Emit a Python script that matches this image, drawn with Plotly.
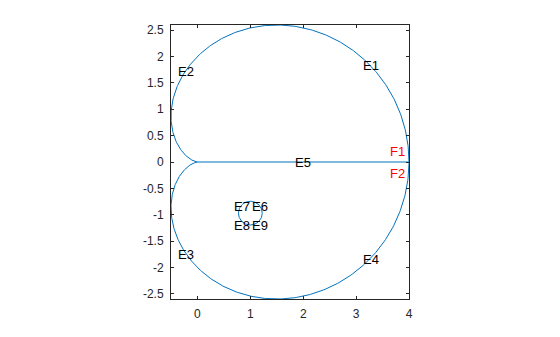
import numpy as np
import plotly.graph_objects as go

# Cardioid r = a(1 + cos t)
cardioid_a = 2.0
theta = np.linspace(0, 2 * np.pi, 721)

# Small circle
circle_center = (1.0, -0.97)
circle_radius = 0.225

# Horizontal segment
seg_x = [0, 4]
seg_y = [0, 0]

# Text labels
label_text = ["E1", "E2", "E3", "E4", "E5", "E6", "E7", "E8", "E9"]
label_x = [3.11, -0.39, -0.39, 3.11, 1.82, 1.02, 0.67, 0.67, 1.02]
label_y = [1.83, 1.72, -1.76, -1.85, 0.0, -0.85, -0.85, -1.21, -1.21]

red_text = ["F1", "F2"]
red_x = [3.63, 3.63]
red_y = [0.20, -0.215]

x_ticks = [0, 1, 2, 3, 4]
y_ticks = [-2.5, -2, -1.5, -1, -0.5, 0, 0.5, 1, 1.5, 2, 2.5]
y_tick_text = ["-2.5", "-2", "-1.5", "-1", "-0.5", "0", "0.5", "1", "1.5", "2", "2.5"]

line_color = "#0072BD"
axis_color = "#262626"

r = cardioid_a * (1 + np.cos(theta))
cx = r * np.cos(theta)
cy = r * np.sin(theta)

phi = np.linspace(0, 2 * np.pi, 181)
ox = circle_center[0] + circle_radius * np.cos(phi)
oy = circle_center[1] + circle_radius * np.sin(phi)

fig = go.Figure()
fig.add_trace(go.Scatter(x=cx, y=cy, mode="lines", line=dict(color=line_color, width=1), hoverinfo="skip"))
fig.add_trace(go.Scatter(x=seg_x, y=seg_y, mode="lines", line=dict(color=line_color, width=1), hoverinfo="skip"))
fig.add_trace(go.Scatter(x=ox, y=oy, mode="lines", line=dict(color=line_color, width=1), hoverinfo="skip"))

for t, x, y in zip(label_text, label_x, label_y):
    fig.add_annotation(x=x, y=y, text=t, showarrow=False, xanchor="left", yanchor="middle",
                       font=dict(family="Liberation Sans, Arial, sans-serif", size=13, color="#000000"),
                       borderpad=0)
for t, x, y in zip(red_text, red_x, red_y):
    fig.add_annotation(x=x, y=y, text=t, showarrow=False, xanchor="left", yanchor="middle",
                       font=dict(family="Liberation Sans, Arial, sans-serif", size=13, color="#FF0000"),
                       borderpad=0)

fig.update_layout(
    width=560, height=337,
    margin=dict(l=171, r=151, t=25, b=38),
    paper_bgcolor="white", plot_bgcolor="white",
    showlegend=False,
    font=dict(family="Liberation Sans, Arial, sans-serif", size=12, color=axis_color),
)
fig.update_xaxes(range=[-0.5, 4], tickvals=x_ticks, ticktext=[str(v) for v in x_ticks],
                 showgrid=False, zeroline=False, showline=True, linecolor=axis_color, linewidth=1,
                 mirror="ticks", ticks="inside", ticklen=3, tickcolor=axis_color, ticklabelstandoff=4)
fig.update_yaxes(range=[-2.598, 2.598], tickvals=y_ticks, ticktext=y_tick_text,
                 showgrid=False, zeroline=False, showline=True, linecolor=axis_color, linewidth=1,
                 mirror="ticks", ticks="inside", ticklen=3, tickcolor=axis_color, ticklabelstandoff=4)

fig.write_html("out.html")
